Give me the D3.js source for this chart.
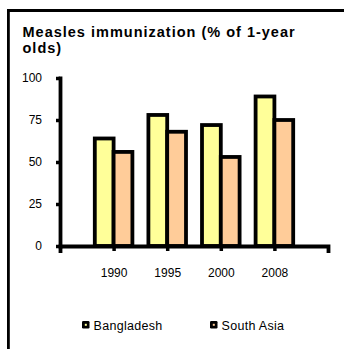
<!DOCTYPE html>
<html>
<head>
<meta charset="utf-8">
<script src="https://cdn.jsdelivr.net/npm/d3@7"></script>
<style>
  html, body { margin: 0; padding: 0; background: #fff; }
  svg { display: block; font-family: "Liberation Sans", Arial, sans-serif; }
</style>
</head>
<body>
<svg id="chart" width="344" height="349" viewBox="0 0 344 349"></svg>
<script>
// Measles immunization, % of children aged 12-23 months
const years = ["1990", "1995", "2000", "2008"];
const seriesNames = ["Bangladesh", "South Asia"];
const bangladesh = [64, 78, 72, 89];
const southAsia = [56, 68, 53, 75];
const yTicks = [0, 25, 50, 75, 100];
const colors = ["#FFFF99", "#FFCC99"];

const values = [bangladesh, southAsia];
const rows = years.map((yr, i) => ({
  year: yr,
  bars: seriesNames.map((s, j) => ({ series: s, value: values[j][i] }))
}));

const svg = d3.select("#chart");

// outer frame: left and top edges (the box runs off the right and bottom)
svg.append("rect").attr("x", 7).attr("y", 9).attr("width", 337).attr("height", 3).style("fill", "#000");
svg.append("rect").attr("x", 7).attr("y", 9).attr("width", 2.8).attr("height", 340).style("fill", "#000");

// title
const title = svg.append("text")
  .attr("x", 22.5).attr("y", 37)
  .style("font-size", "14.5px").style("font-weight", "bold")
  .style("letter-spacing", "1px")
  .style("fill", "#000");
title.append("tspan").attr("x", 22.5).text("Measles immunization (% of 1-year");
title.append("tspan").attr("x", 22.5).attr("dy", 16).text("olds)");

// scales
const x0 = d3.scalePoint().domain(years).range([60, 328]).padding(1);
const x1 = d3.scaleBand().domain(seriesNames).range([-18.8, 18.8]);
const y = d3.scaleLinear().domain([0, 100]).range([246, 78]);
const color = d3.scaleOrdinal().domain(seriesNames).range(colors);

// bars
const groups = svg.append("g").selectAll("g")
  .data(rows).join("g")
  .attr("transform", d => `translate(${x0(d.year)},0)`);

groups.selectAll("rect")
  .data(d => d.bars).join("rect")
  .attr("x", d => x1(d.series))
  .attr("width", x1.bandwidth())
  .attr("y", d => y(d.value))
  .attr("height", d => y(0) - y(d.value))
  .style("fill", d => color(d.series))
  .style("stroke", "#000").style("stroke-width", "3.8px");

// y axis
const yAxis = svg.append("g")
  .attr("transform", "translate(60,0)")
  .call(d3.axisLeft(y).tickValues(yTicks).tickSize(4).tickSizeOuter(0).tickPadding(14));
yAxis.select(".domain").style("stroke", "#000").style("stroke-width", "3.8px").style("stroke-linecap", "square");
yAxis.selectAll(".tick line").style("stroke", "#000").style("stroke-width", "3.5px");
yAxis.selectAll(".tick text")
  .style("font-family", "'Liberation Sans', Arial, sans-serif")
  .style("font-size", "12px").style("fill", "#000");

// x axis
const xAxis = svg.append("g")
  .attr("transform", `translate(0,${y(0)})`)
  .call(d3.axisBottom(x0).tickSize(5).tickSizeOuter(5).tickPadding(17));
xAxis.select(".domain").style("stroke", "#000").style("stroke-width", "3.8px").style("stroke-linecap", "square");
xAxis.selectAll(".tick line").style("stroke", "#000").style("stroke-width", "3.5px");
xAxis.selectAll(".tick text")
  .style("font-family", "'Liberation Sans', Arial, sans-serif")
  .style("font-size", "12px").style("fill", "#000");

// legend
const legendX = [82, 210];
const legend = svg.append("g").selectAll("g")
  .data(seriesNames).join("g")
  .attr("transform", (d, i) => `translate(${legendX[i]},321)`);
legend.append("rect")
  .attr("width", 7.5).attr("height", 7.5).attr("rx", 1.2)
  .style("fill", "#000");
legend.append("rect")
  .attr("x", 2.8).attr("y", 2.8).attr("width", 2).attr("height", 2)
  .style("fill", d => color(d));
legend.append("text")
  .attr("x", 11.5).attr("y", 8.8)
  .style("font-size", "12.5px").style("letter-spacing", "0.3px")
  .style("fill", "#000")
  .text(d => d);
</script>
</body>
</html>
